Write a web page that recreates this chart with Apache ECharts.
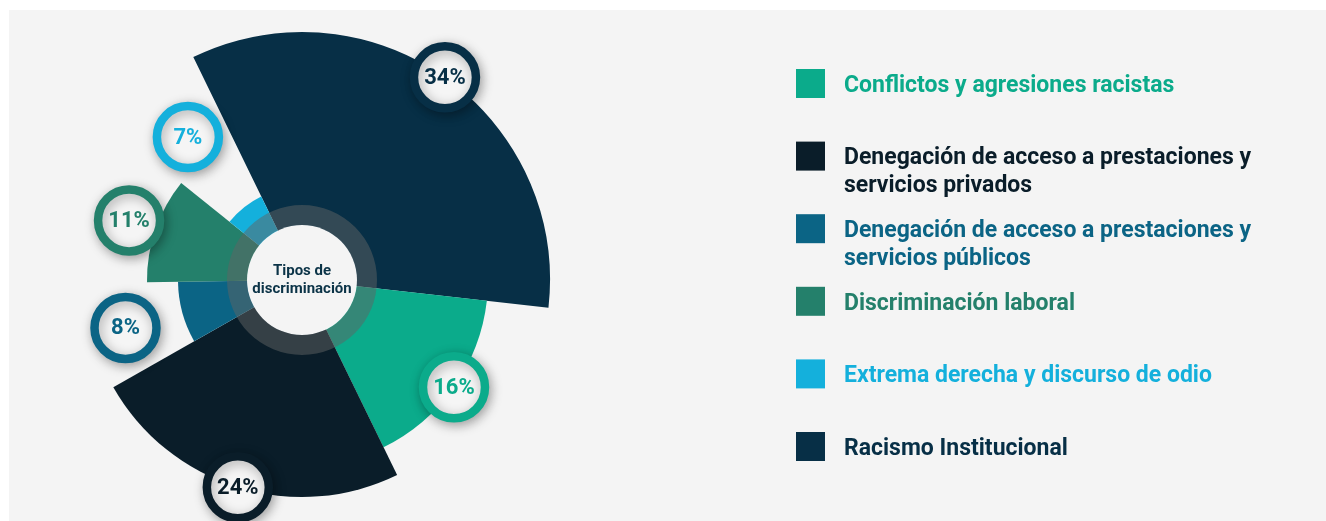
<!DOCTYPE html>
<html>
<head>
<meta charset="utf-8">
<script src="https://cdn.jsdelivr.net/npm/echarts@6/dist/echarts.min.js"></script>
<style>
  html, body { margin: 0; padding: 0; background: #fff; }
  #chart { width: 1326px; height: 521px; }
</style>
</head>
<body>
<div id="chart"></div>
<script>
// tipos de discriminación, en el orden del gráfico (sentido horario)
const categories = [
  'Racismo Institucional',
  'Conflictos y agresiones racistas',
  'Denegación de acceso a prestaciones y servicios privados',
  'Denegación de acceso a prestaciones y servicios públicos',
  'Discriminación laboral',
  'Extrema derecha y discurso de odio'
];
const values = [34, 16, 24, 8, 11, 7];
const colors = ['#072f46', '#0bab8b', '#0a1d29', '#0b6485', '#24806b', '#14b0dc'];

// leyenda en orden alfabético, con sus saltos de línea
const legendNames = [
  'Conflictos y agresiones racistas',
  'Denegación de acceso a prestaciones y servicios privados',
  'Denegación de acceso a prestaciones y servicios públicos',
  'Discriminación laboral',
  'Extrema derecha y discurso de odio',
  'Racismo Institucional'
];
const legendLabels = [
  'Conflictos y agresiones racistas',
  'Denegación de acceso a prestaciones y\nservicios privados',
  'Denegación de acceso a prestaciones y\nservicios públicos',
  'Discriminación laboral',
  'Extrema derecha y discurso de odio',
  'Racismo Institucional'
];

const centerTitle = 'Tipos de\ndiscriminación';

const FONT = 'Roboto, "Noto Sans", sans-serif';

// el radio de cada sector crece con su posición en el ranking
const sorted = values.slice().sort((a, b) => a - b);
const ranks = values.map(v => sorted.indexOf(v) + 1);
const total = values.reduce((s, v) => s + v, 0);

let acc = 0;
const sliceData = values.map((v, i) => {
  const item = { name: categories[i], value: [acc, acc + v, ranks[i], v] };
  acc += v;
  return item;
});

const chart = echarts.init(document.getElementById('chart'));

function renderSlice(params, api) {
  const cx = params.coordSys.cx;
  const cy = params.coordSys.cy;
  const start = api.value(0);
  const end = api.value(1);
  const rank = api.value(2);
  const pct = api.value(3);
  const color = colors[params.dataIndex];

  const p0 = api.coord([rank, start]);
  const p1 = api.coord([rank, end]);
  const r = Math.hypot(p0[0] - cx, p0[1] - cy);
  const a0 = Math.atan2(p0[1] - cy, p0[0] - cx);
  let a1 = Math.atan2(p1[1] - cy, p1[0] - cx);
  if (a1 <= a0) a1 += Math.PI * 2;

  // etiqueta en el borde exterior (las pequeñas se alejan un poco)
  const lp = api.coord([Math.max(rank, 3.9), (start + end) / 2]);

  return {
    type: 'group',
    children: [
      {
        type: 'sector',
        shape: { cx: cx, cy: cy, r0: 0, r: r, startAngle: a0, endAngle: a1, clockwise: true },
        style: { fill: color }
      },
      {
        type: 'circle',
        z2: 10,
        shape: { cx: lp[0], cy: lp[1], r: 31 },
        style: {
          fill: '#f5f5f5', stroke: color, lineWidth: 8.5,
          shadowBlur: 12, shadowOffsetX: 2, shadowOffsetY: 3, shadowColor: 'rgba(0,0,0,0.3)'
        }
      },
      {
        type: 'text',
        z2: 11,
        x: lp[0],
        y: lp[1] + 1,
        style: {
          text: pct + '%', fill: color, align: 'center', verticalAlign: 'middle',
          fontSize: 22, fontWeight: 'bold', fontFamily: FONT
        }
      }
    ]
  };
}

// leyenda dibujada a mano (cuadro + texto)
const legendGraphic = [];
legendNames.forEach((name, i) => {
  const top = 69 + i * 72.6;
  const c = colors[categories.indexOf(name)];
  legendGraphic.push({
    type: 'rect',
    shape: { x: 796, y: top, width: 29, height: 29 },
    style: { fill: c }
  });
  legendGraphic.push({
    type: 'text',
    x: 844,
    y: top + 3,
    style: {
      text: legendLabels[i], fill: c, verticalAlign: 'top', lineHeight: 28,
      fontSize: 23, fontWeight: 'bold', fontFamily: FONT
    }
  });
});

const option = {
  animation: false,
  graphic: [
    {
      type: 'rect',
      z: -10,
      shape: { x: 9, y: 10, width: 1317, height: 511 },
      style: { fill: '#f4f4f4' }
    }
  ].concat(legendGraphic),
  polar: { center: [302, 280], radius: [0, 248] },
  angleAxis: { type: 'value', min: 0, max: total, startAngle: 116, clockwise: true, show: false },
  radiusAxis: { type: 'value', min: -2, max: 6, show: false },
  series: [
    {
      type: 'custom',
      coordinateSystem: 'polar',
      renderItem: renderSlice,
      data: sliceData,
      silent: true
    },
    {
      type: 'pie',
      z: 5,
      silent: true,
      center: [302, 280],
      radius: [55, 75],
      label: { show: false },
      data: [{ value: 1, itemStyle: { color: 'rgba(95,100,100,0.5)' } }]
    },
    {
      type: 'pie',
      z: 6,
      silent: true,
      center: [302, 280],
      radius: [0, 55],
      label: {
        show: true, position: 'center', formatter: centerTitle,
        color: '#0b3347', fontSize: 15, fontWeight: 'bold', fontFamily: FONT, lineHeight: 18
      },
      labelLine: { show: false },
      data: [{ value: 1, itemStyle: { color: '#f4f4f4' } }]
    }
  ]
};

chart.setOption(option);
</script>
</body>
</html>
